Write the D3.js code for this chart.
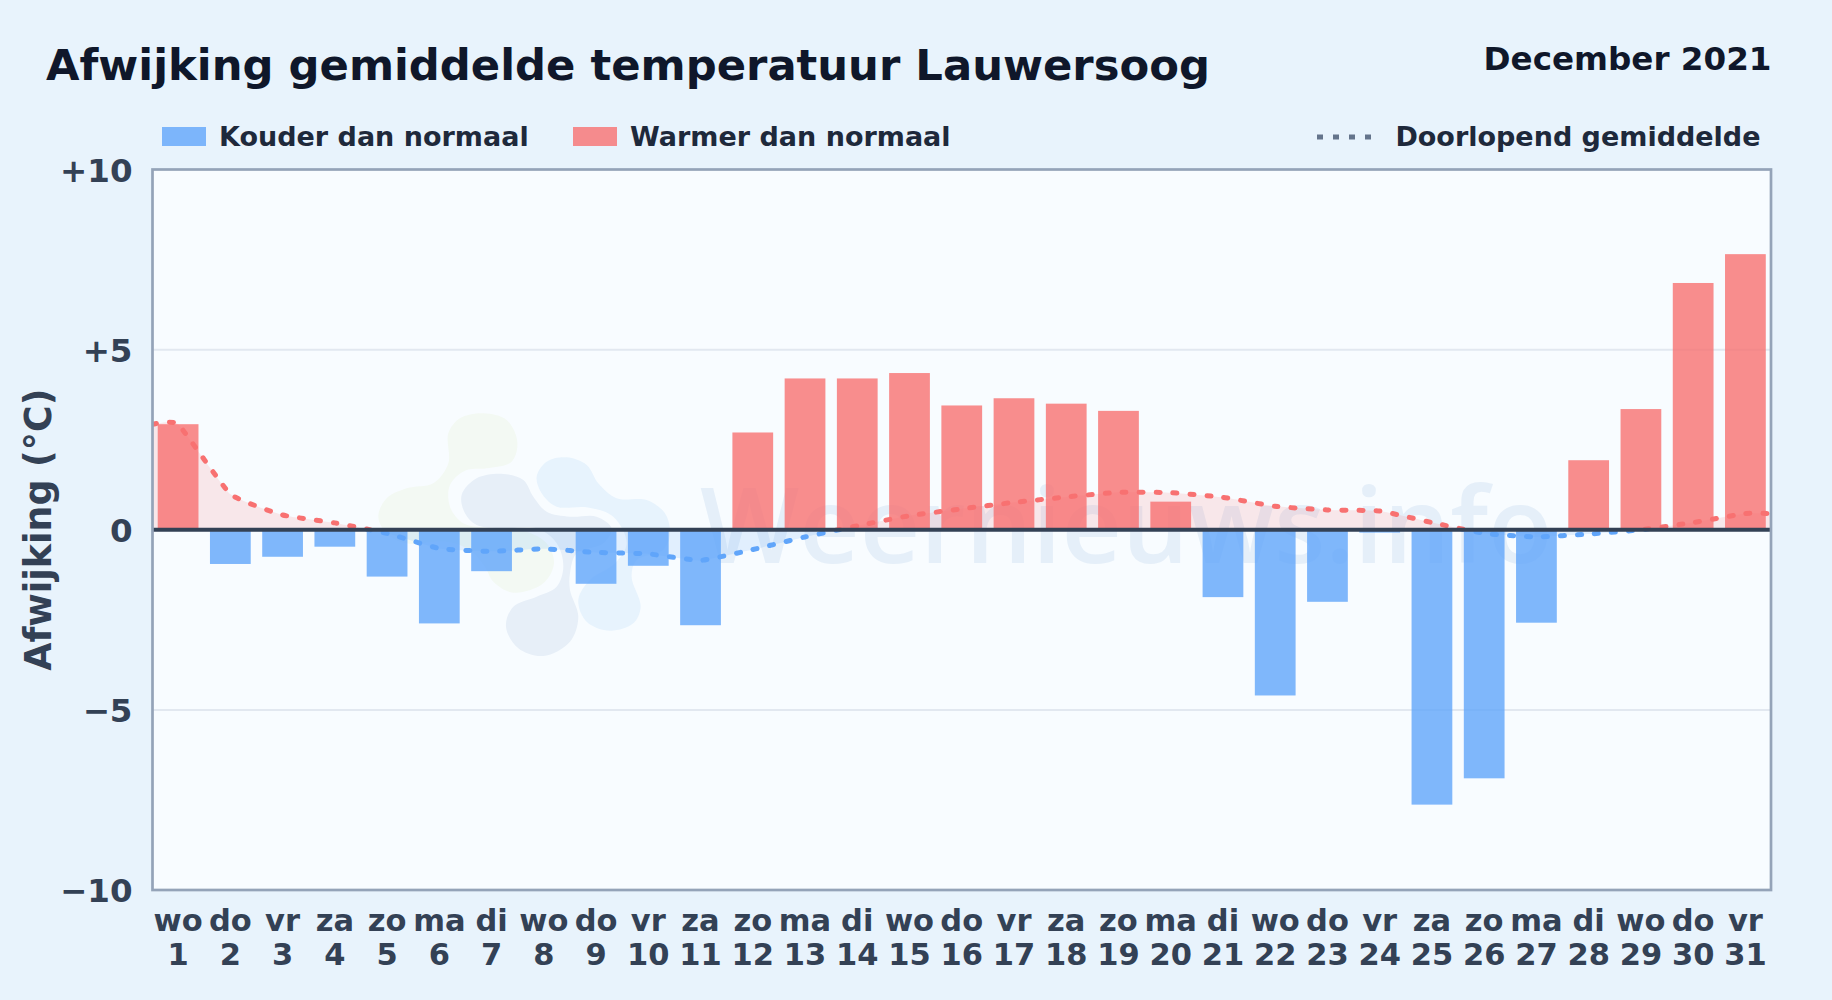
<!DOCTYPE html>
<html>
<head>
<meta charset="utf-8">
<script src="https://cdn.jsdelivr.net/npm/d3@7"></script>
<style>
  html, body { margin: 0; padding: 0; background: #e8f3fc; }
  svg { display: block; font-family: "DejaVu Sans", sans-serif; font-weight: 700; }
</style>
</head>
<body>
<div id="chart"></div>
<script>
// Data
const days = d3.range(1, 32);
const weekdays = ["wo","do","vr","za","zo","ma","di","wo","do","vr","za","zo","ma","di","wo","do","vr","za","zo","ma","di","wo","do","vr","za","zo","ma","di","wo","do","vr"];
const deviation = [2.93,-0.95,-0.75,-0.47,-1.3,-2.6,-1.15,0,-1.5,-1,-2.65,2.7,4.2,4.2,4.35,3.45,3.65,3.5,3.3,0.78,-1.87,-4.6,-2,-0.08,-7.63,-6.9,-2.58,1.93,3.35,6.85,7.65];
const runningMean = [2.93,0.99,0.41,0.19,-0.1,-0.52,-0.6,-0.53,-0.63,-0.67,-0.85,-0.55,-0.2,0.11,0.39,0.58,0.76,0.91,1.04,1.03,0.9,0.65,0.55,0.52,0.2,-0.1,-0.2,-0.12,0,0.2,0.45];
const yTicks = [-10,-5,0,5,10];

// Dimensions
const width = 1832;
const height = 1000;
const margin = { top: 169.5, right: 61, bottom: 110, left: 152.5 };
const plotRight = width - margin.right;
const plotBottom = height - margin.bottom;

// Colours
const red = "#f87171";
const blue = "#60a5fa";
const ink = "#334155";

const svg = d3.select("#chart")
  .append("svg")
  .attr("width", width)
  .attr("height", height);

// Scales
const x = d3.scaleBand()
  .domain(days)
  .range([margin.left, plotRight])
  .paddingInner(0.22)
  .paddingOuter(0.1);

const y = d3.scaleLinear()
  .domain([-10, 10])
  .range([plotBottom, margin.top]);

const center = d => x(d) + x.bandwidth() / 2;

// Background and plot area
svg.append("rect")
  .attr("width", width)
  .attr("height", height)
  .attr("fill", "#e8f3fc");

svg.append("rect")
  .attr("x", margin.left)
  .attr("y", margin.top)
  .attr("width", plotRight - margin.left)
  .attr("height", plotBottom - margin.top)
  .attr("fill", "#f8fcff");

// Watermark logo, points taken from a zoom crop at 3x
const blobs = [
  { fill: "#f3f9f3", pts: [[235,100],[270,55],[340,40],[410,60],[442,125],[425,185],[350,205],[285,212],[240,255],[240,320],[280,370],[360,385],[470,395],[530,430],[552,490],[520,550],[430,578],[370,545],[345,500],[300,450],[230,425],[110,430],[50,400],[25,350],[50,295],[110,265],[190,250],[235,190]] },
  { fill: "#e7f3fd", pts: [[500,230],[530,185],[590,172],[650,195],[685,250],[740,295],[830,300],[885,340],[900,400],[880,450],[800,480],[785,530],[812,620],[790,670],[720,692],[650,665],[625,600],[660,540],[735,490],[770,430],[730,350],[650,322],[560,320],[515,280]] },
  { fill: "#e7eff8", pts: [[275,285],[320,235],[400,222],[460,240],[490,290],[530,335],[600,350],[680,350],[725,385],[700,430],[620,460],[600,520],[600,570],[625,650],[600,725],[520,768],[445,745],[408,680],[430,620],[500,590],[560,560],[580,500],[560,430],[500,385],[400,385],[320,375],[285,340]] }
];
const blobLine = d3.line().curve(d3.curveCatmullRomClosed);
svg.append("g")
  .attr("transform", "translate(370,400) scale(0.3333)")
  .selectAll("path")
  .data(blobs)
  .join("path")
  .attr("d", d => blobLine(d.pts))
  .attr("fill", d => d.fill);

svg.append("text")
  .attr("x", 700)
  .attr("y", 563)
  .attr("font-family", "'Open Sans', sans-serif")
  .attr("font-weight", 600)
  .attr("font-size", 105)
  .attr("fill", "#e5eff9")
  .text("Weernieuws.info");

// Grid
svg.append("g")
  .selectAll("line")
  .data(yTicks.filter(d => Math.abs(d) === 5))
  .join("line")
  .attr("x1", margin.left)
  .attr("x2", plotRight)
  .attr("y1", d => y(d))
  .attr("y2", d => y(d))
  .attr("stroke", "#e2e8f0")
  .attr("stroke-width", 2);

// Clips for above and below zero
const defs = svg.append("defs");
defs.append("clipPath").attr("id", "above").append("rect")
  .attr("x", margin.left).attr("y", margin.top)
  .attr("width", plotRight - margin.left).attr("height", y(0) - margin.top);
defs.append("clipPath").attr("id", "below").append("rect")
  .attr("x", margin.left).attr("y", y(0))
  .attr("width", plotRight - margin.left).attr("height", plotBottom - y(0));

// Running mean runs from edge to edge of the plot
const meanPoints = [[margin.left, runningMean[0]]]
  .concat(days.map((d, i) => [center(d), runningMean[i]]))
  .concat([[plotRight, runningMean[30]]]);

const meanCurve = d3.curveCardinal.tension(0.6);
const area = d3.area().x(d => d[0]).y0(y(0)).y1(d => y(d[1])).curve(meanCurve);
const line = d3.line().x(d => d[0]).y(d => y(d[1])).curve(meanCurve);

const sides = [{ clip: "above", color: red }, { clip: "below", color: blue }];

svg.append("g")
  .selectAll("path")
  .data(sides)
  .join("path")
  .attr("clip-path", d => `url(#${d.clip})`)
  .attr("d", area(meanPoints))
  .attr("fill", d => d.color)
  .attr("fill-opacity", 0.15);

// Bars
svg.append("g")
  .selectAll("rect")
  .data(days)
  .join("rect")
  .attr("x", d => x(d))
  .attr("width", x.bandwidth())
  .attr("y", (d, i) => y(Math.max(0, deviation[i])))
  .attr("height", (d, i) => Math.abs(y(deviation[i]) - y(0)))
  .attr("fill", (d, i) => deviation[i] < 0 ? blue : red)
  .attr("fill-opacity", 0.8);

svg.append("g")
  .selectAll("path")
  .data(sides)
  .join("path")
  .attr("clip-path", d => `url(#${d.clip})`)
  .attr("d", line(meanPoints))
  .attr("fill", "none")
  .attr("stroke", d => d.color)
  .attr("stroke-width", 5)
  .attr("stroke-linecap", "round")
  .attr("stroke-dasharray", "4 13");

// Zero line and frame
svg.append("line")
  .attr("x1", margin.left)
  .attr("x2", plotRight)
  .attr("y1", y(0))
  .attr("y2", y(0))
  .attr("stroke", ink)
  .attr("stroke-width", 4);

svg.append("rect")
  .attr("x", margin.left)
  .attr("y", margin.top)
  .attr("width", plotRight - margin.left)
  .attr("height", plotBottom - margin.top)
  .attr("fill", "none")
  .attr("stroke", "#94a3b8")
  .attr("stroke-width", 2.7);

// Axes
const yAxis = svg.append("g")
  .attr("transform", `translate(${margin.left},1.5)`)
  .call(d3.axisLeft(y)
    .tickValues(yTicks)
    .tickSize(0)
    .tickPadding(20)
    .tickFormat(d => d > 0 ? "+" + d : d < 0 ? "\u2212" + Math.abs(d) : "0"));
yAxis.select(".domain").remove();
yAxis.selectAll("text")
  .attr("font-size", 32.5)
  .attr("font-family", "'DejaVu Sans', sans-serif")
  .attr("font-weight", 700)
  .attr("fill", ink);

const xAxis = svg.append("g")
  .attr("transform", `translate(0,${plotBottom})`)
  .call(d3.axisBottom(x).tickSize(0).tickFormat(""));
xAxis.select(".domain").remove();
xAxis.selectAll("text").remove();
const xLabel = xAxis.selectAll(".tick")
  .append("text")
  .attr("text-anchor", "middle")
  .attr("font-size", 30.5)
  .attr("font-family", "'DejaVu Sans', sans-serif")
  .attr("font-weight", 700)
  .attr("fill", ink);
xLabel.append("tspan").attr("x", 0).attr("y", 41).text((d, i) => weekdays[i]);
xLabel.append("tspan").attr("x", 0).attr("y", 75).text(d => d);

svg.append("text")
  .attr("transform", `translate(51,${y(0)}) rotate(-90)`)
  .attr("text-anchor", "middle")
  .attr("font-size", 36.4)
  .attr("fill", ink)
  .text("Afwijking (\u00b0C)");

// Titles
svg.append("text")
  .attr("x", 46)
  .attr("y", 80)
  .attr("font-size", 43.3)
  .attr("fill", "#0f172a")
  .text("Afwijking gemiddelde temperatuur Lauwersoog");

svg.append("text")
  .attr("x", 1771.5)
  .attr("y", 70)
  .attr("text-anchor", "end")
  .attr("font-size", 32.6)
  .attr("fill", "#0f172a")
  .text("December 2021");

// Legend
const legendBars = [
  { label: "Kouder dan normaal", color: blue, swatch: 162, text: 219 },
  { label: "Warmer dan normaal", color: red, swatch: 573, text: 630 }
];
const legend = svg.append("g");
legend.selectAll("rect")
  .data(legendBars)
  .join("rect")
  .attr("x", d => d.swatch)
  .attr("y", 127)
  .attr("width", 44)
  .attr("height", 19)
  .attr("fill", d => d.color)
  .attr("fill-opacity", 0.8);
legend.selectAll("text")
  .data(legendBars)
  .join("text")
  .attr("x", d => d.text)
  .attr("y", 146)
  .attr("font-size", 27)
  .attr("fill", "#1e293b")
  .text(d => d.label);
legend.append("line")
  .attr("x1", 1317)
  .attr("x2", 1373)
  .attr("y1", 137)
  .attr("y2", 137)
  .attr("stroke", "#64748b")
  .attr("stroke-width", 5)
  .attr("stroke-dasharray", "6 10");
legend.append("text")
  .attr("x", 1760.5)
  .attr("y", 146)
  .attr("text-anchor", "end")
  .attr("font-size", 27)
  .attr("fill", "#1e293b")
  .text("Doorlopend gemiddelde");
</script>
</body>
</html>
